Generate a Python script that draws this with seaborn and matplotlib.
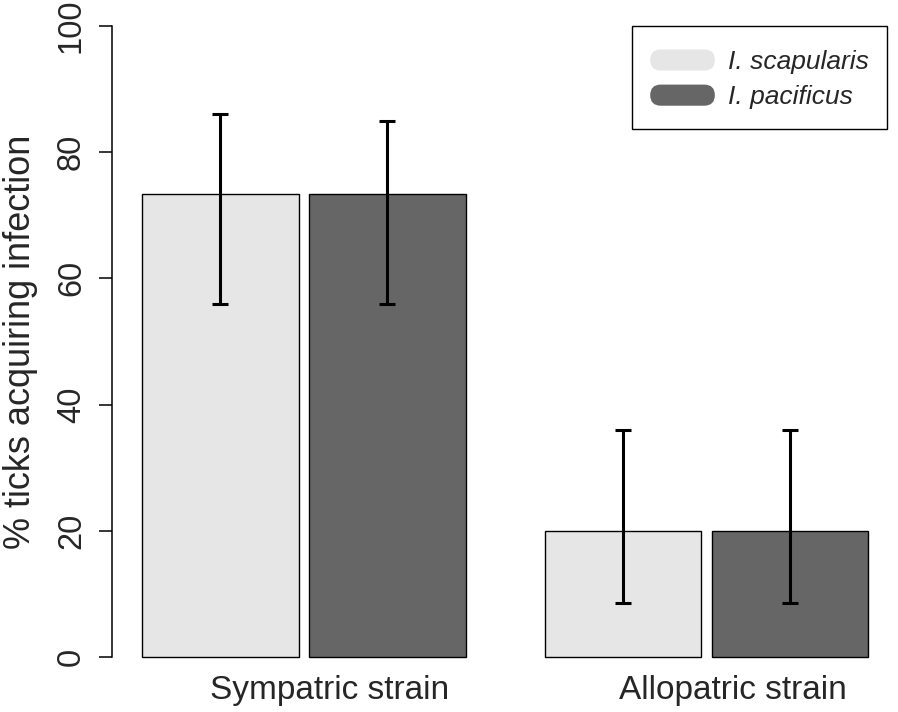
import matplotlib
matplotlib.use("Agg")
import matplotlib.pyplot as plt
import matplotlib.transforms as mtransforms
from matplotlib.patches import FancyBboxPatch, Patch
from matplotlib.legend_handler import HandlerPatch
import seaborn as sns
import pandas as pd

# ---- data ----
strains = ["Sympatric strain", "Allopatric strain"]
species = ["I. scapularis", "I. pacificus"]
pct_scapularis = [73.3, 20.0]
pct_pacificus = [73.3, 20.0]
lo_scapularis = [56.0, 8.5]
hi_scapularis = [86.0, 36.0]
lo_pacificus = [56.0, 8.5]
hi_pacificus = [85.0, 36.0]
yticks = [0, 20, 40, 60, 80, 100]
ylabel = "% ticks acquiring infection"

colors = ["#e6e6e6", "#666666"]

df = pd.DataFrame({
    "strain": strains * 2,
    "species": [species[0]] * 2 + [species[1]] * 2,
    "pct": pct_scapularis + pct_pacificus,
})
lows = lo_scapularis + lo_pacificus
highs = hi_scapularis + hi_pacificus

sns.set_style("white")
plt.rcParams["font.family"] = ["Liberation Sans", "DejaVu Sans"]

W, H = 898, 712
fig = plt.figure(figsize=(W / 100, H / 100), dpi=100)
ax = fig.add_axes([112 / W, 55 / H, 778 / W, 631 / H])

sns.barplot(data=df, x="strain", y="pct", hue="species", order=strains,
            hue_order=species, palette=colors, width=0.83, gap=0.063,
            edgecolor="black", linewidth=1.0, errorbar=None, legend=False,
            ax=ax)

bars = [p for p in ax.patches]
for p in bars:
    p.set_clip_on(False)

# error bars, in the same order seaborn drew the bars (hue level, then category)
xs = [p.get_x() + p.get_width() / 2 for p in bars]
ys = [p.get_height() for p in bars]
yerr = [[y - lo for y, lo in zip(ys, lows)], [hi - y for y, hi in zip(ys, highs)]]
ax.errorbar(xs, ys, yerr=yerr, fmt="none", ecolor="black", elinewidth=2.2,
            capsize=5.8, capthick=2.2, zorder=5, clip_on=False)

ax.set_xlim(-0.477, 1.456)
ax.set_ylim(0, 100)
ax.set_yticks(yticks)
ax.set_yticklabels([str(t) for t in yticks])

for s in ["top", "right", "bottom"]:
    ax.spines[s].set_visible(False)
ax.spines["left"].set_color("black")
ax.spines["left"].set_linewidth(1.1)

ax.tick_params(axis="y", length=9.4, width=1.1, color="black", pad=8.6,
               labelsize=23.5, labelrotation=90, left=True)
for lab in ax.get_yticklabels():
    lab.set_va("center")
ax.tick_params(axis="x", length=0, pad=13.0, labelsize=24)
offset = mtransforms.ScaledTranslation(26 / 100, 0, fig.dpi_scale_trans)
for lab in ax.get_xticklabels():
    lab.set_transform(lab.get_transform() + offset)

ax.set_xlabel("")
ax.set_ylabel(ylabel, fontsize=26, labelpad=13)


# legend with rounded handles
def rounded_handle(legend, orig_handle, xdescent, ydescent, width, height, fontsize):
    hh = 0.8 * fontsize
    y0 = -ydescent + (height - hh) / 2
    return FancyBboxPatch((-xdescent, y0), width, hh,
                          boxstyle=f"round,pad=0,rounding_size={hh / 2}",
                          facecolor=orig_handle.get_facecolor(),
                          edgecolor="none")


handles = [Patch(facecolor=c, edgecolor="none", label=s) for c, s in zip(colors, species)]
leg = ax.legend(handles=handles, loc="upper right",
                bbox_to_anchor=((887 - 112) / 778, 1.0), borderaxespad=0,
                prop={"style": "italic", "size": 19},
                handlelength=2.45, handleheight=1.48, handletextpad=0.5,
                labelspacing=0.125, borderpad=0.685, fancybox=False,
                edgecolor="black", framealpha=1,
                handler_map={Patch: HandlerPatch(patch_func=rounded_handle)})
leg.get_frame().set_linewidth(1.0)

fig.savefig("out.png", dpi=100)
